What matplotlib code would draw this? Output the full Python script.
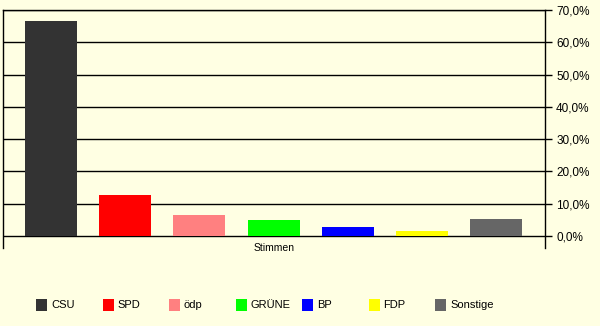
import matplotlib.pyplot as plt
from matplotlib.patches import Rectangle

parties = ['CSU', 'SPD', 'ödp', 'GRÜNE', 'BP', 'FDP', 'Sonstige']
shares = [66.6, 12.7, 6.5, 5.0, 2.8, 1.6, 5.3]
colors = ['#333333', '#ff0000', '#ff8080', '#00ff00', '#0000ff', '#ffff00', '#666666']
ticks = [0, 10, 20, 30, 40, 50, 60, 70]
category = 'Stimmen'

bg = '#ffffe3'
W, H = 600, 326
plt.rcParams['font.family'] = ['Liberation Sans', 'DejaVu Sans']

fig = plt.figure(figsize=(W / 100, H / 100), dpi=100, facecolor=bg)
# Achsenbereich in Pixeln: links 3, rechts 545, oben 10 (70 %), unten 248
ax = fig.add_axes([3 / W, (H - 248) / H, 542 / W, 238 / H])
ax.set_facecolor(bg)

x = list(range(len(parties)))
ax.bar(x, shares, width=0.7, color=colors, zorder=3)

ax.set_xlim(-0.646, 6.654)
ax.set_ylim(-70 * 12 / 226, 70)
ax.set_yticks(ticks)
ax.set_yticklabels([f'{t:.1f}%'.replace('.', ',') for t in ticks], fontsize=8.5)
ax.yaxis.tick_right()
ax.tick_params(axis='y', length=5, width=1, pad=3, colors='black')
ax.set_xticks([])
ax.grid(axis='y', color='black', linewidth=1, zorder=1)
ax.spines['bottom'].set_visible(False)
for s in ['top', 'left', 'right']:
    ax.spines[s].set_linewidth(1)

fig.text(274 / W, 1 - 248 / H, category, ha='center', va='center', fontsize=7.5)

# Legende unten
for i, (name, c) in enumerate(zip(parties, colors)):
    x0 = 36 + 66.5 * i
    fig.patches.append(Rectangle((x0 / W, 1 - 311 / H), 11 / W, 12 / H,
                                 transform=fig.transFigure, facecolor=c, edgecolor='none'))
    fig.text((x0 + 15) / W, 1 - 305 / H, name, ha='left', va='center', fontsize=8)

fig.savefig('out.png', dpi=100, facecolor=bg)
